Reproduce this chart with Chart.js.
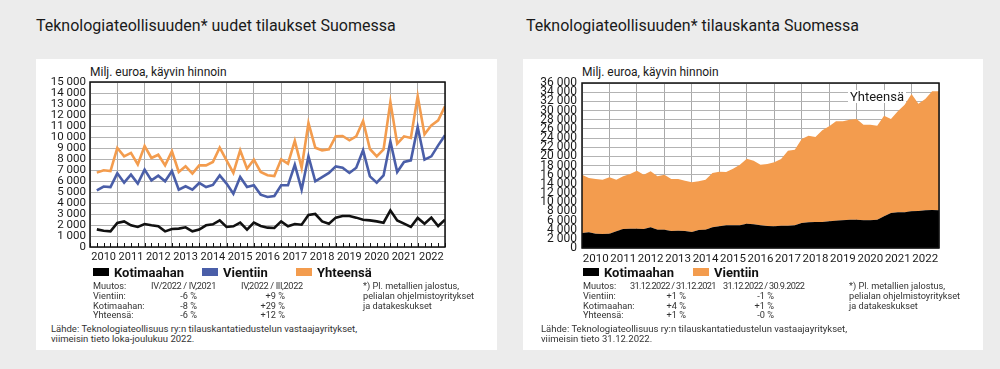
<!DOCTYPE html>
<html>
<head>
<meta charset="utf-8">
<script src="https://cdn.jsdelivr.net/npm/chart.js@4.4.1/dist/chart.umd.min.js"></script>
<style>
  body { margin: 0; width: 1000px; height: 369px; background: #ececec; font-family: Roboto, sans-serif; position: relative; overflow: hidden; }
  .panel { position: absolute; top: 59px; height: 291px; background: #fff; }
  .t { position: absolute; white-space: nowrap; color: #333; font-size: 9.2px; line-height: 10px; }
  .title { position: absolute; top: 18px; font-size: 16px; line-height: 16px; color: #1a1a1a; white-space: nowrap; }
  .unit { position: absolute; top: 66px; font-size: 12px; line-height: 12px; color: #1a1a1a; white-space: nowrap; }
  .leg { position: absolute; top: 266px; font-size: 13px; line-height: 13px; font-weight: bold; color: #111; white-space: nowrap; }
  .sw { position: absolute; top: 268px; width: 16px; height: 8px; }
  .r { text-align: right; }
  canvas { position: absolute; }
</style>
</head>
<body>
<div class="panel" style="left:36px;width:461px"></div>
<div class="panel" style="left:523px;width:460px"></div>
<div class="title" style="left:36px">Teknologiateollisuuden* uudet tilaukset Suomessa</div>
<div class="title" style="left:526px">Teknologiateollisuuden* tilauskanta Suomessa</div>
<div class="unit" style="left:90px">Milj. euroa, käyvin hinnoin</div>
<div class="unit" style="left:582px">Milj. euroa, käyvin hinnoin</div>
<canvas id="orders" width="412" height="205" style="left:40px;top:62px"></canvas>
<canvas id="backlog" width="418" height="206" style="left:528px;top:62px"></canvas>
<div class="unit" style="left:848px;top:90px;font-size:13px;line-height:13px;background:#fff;padding:0 2px">Yhteensä</div>
<div id="texts"></div>
<script>
const years = ['2010', '2011', '2012', '2013', '2014', '2015', '2016', '2017', '2018', '2019', '2020', '2021', '2022'];

// Uudet tilaukset, milj. euroa, neljännesvuosittain I/2010 - IV/2022
const ordersTotal = [
  6760, 6970, 6900, 9000, 8240, 8550, 7500, 9180, 8090, 8390, 7420, 8700,
  6820, 7330, 6670, 7420, 7420, 7730, 9030, 7880, 6730, 8790, 7120, 7940,
  6820, 6520, 6450, 7970, 7580, 9640, 7210, 11270, 9030, 8790, 8880, 10060,
  10090, 9700, 10060, 11450, 8910, 8240, 8880, 13180, 9390, 10060, 9910, 13700,
  10240, 11060, 11510, 12800
];
const ordersExport = [
  5150, 5500, 5450, 6700, 5850, 6580, 5760, 7030, 6060, 6480, 5970, 6900,
  5210, 5520, 5210, 5820, 5450, 5640, 6510, 5760, 4850, 6360, 5450, 5610,
  4760, 4550, 4640, 5610, 5610, 7480, 5210, 8240, 5970, 6360, 6730, 7330,
  7210, 6730, 7210, 8790, 6420, 5850, 6510, 9600, 6820, 7730, 7880, 10900,
  7940, 8240, 9240, 10150
];
const ordersDomestic = [
  1600, 1480, 1420, 2180, 2330, 1970, 1820, 2090, 1970, 1880, 1420, 1640,
  1670, 1790, 1420, 1580, 1970, 2060, 2420, 1820, 1880, 2210, 1580, 2210,
  1910, 1760, 1730, 2330, 1880, 2090, 2030, 2910, 3000, 2330, 2120, 2670,
  2820, 2820, 2670, 2480, 2420, 2330, 2210, 3330, 2420, 2120, 1820, 2640,
  2120, 2670, 1910, 2480
];

// Tilauskanta neljänneksen lopussa 31.12.2009 - 31.12.2022
const backlogDomestic = [
  3270, 3420, 3130, 3050, 3130, 3640, 4150, 4220, 4220, 4150, 4510, 4000, 4000,
  3710, 3780, 3710, 3490, 3930, 4000, 4510, 4730, 4950, 4950, 4950, 5310,
  5160, 4950, 4800, 4730, 4870, 4870, 4950, 5450, 5600, 5670, 5670, 5820,
  5960, 6040, 6180, 6180, 6040, 6040, 6180, 6910, 7640, 7780, 7780, 8000,
  8070, 8220, 8290, 8220
];
const backlogExport = [
  12730, 11850, 11920, 11850, 12290, 11260, 11490, 11930, 12650, 11850, 12220, 11640, 12000,
  11340, 11270, 10980, 10840, 10620, 10900, 11850, 11920, 11630, 12360, 13230, 14180,
  13890, 13230, 13530, 13960, 14550, 16370, 16500, 18330, 18910, 18550, 20000, 20730,
  21680, 21600, 21820, 21970, 20870, 20870, 20510, 21960, 20510, 22040, 23490, 25600,
  23420, 24290, 25890, 25960
];

const legendLeft = [['Kotimaahan', '#000'], ['Vientiin', '#4a5ea8'], ['Yhteensä', '#f39c4e']];
const legendRight = [['Kotimaahan', '#000'], ['Vientiin', '#f39c4e']];
const changeRowsLeft = [
  ['Muutos:', 'IV/2022 / IV,2021', 'IV,2022 / III,2022'],
  ['Vientiin:', '-6 %', '+9 %'],
  ['Kotimaahan:', '-8 %', '+29 %'],
  ['Yhteensä:', '-6 %', '+12 %']
];
const changeRowsRight = [
  ['Muutos:', '31.12.2022 / 31.12.2021', '31.12.2022 / 30.9.2022'],
  ['Vientiin:', '+1 %', '-1 %'],
  ['Kotimaahan:', '+4 %', '+1 %'],
  ['Yhteensä:', '+1 %', '-0 %']
];
const footnote = ['*) Pl. metallien jalostus,', 'pelialan ohjelmistoyritykset', 'ja datakeskukset'];
const sourceLeft = ['Lähde: Teknologiateollisuus ry:n tilauskantatiedustelun vastaajayritykset,', 'viimeisin tieto loka-joulukuu 2022.'];
const sourceRight = ['Lähde: Teknologiateollisuus ry:n tilauskantatiedustelun vastaajayritykset,', 'viimeisin tieto 31.12.2022.'];

// texts below the charts
const box = document.getElementById('texts');
function put(txt, left, top, cls, extra) {
  const d = document.createElement('div');
  d.className = cls;
  d.textContent = txt;
  d.style.left = left + 'px';
  d.style.top = top + 'px';
  if (extra) Object.assign(d.style, extra);
  box.appendChild(d);
}
function legend(items, xs) {
  items.forEach((it, i) => {
    put('', xs[i], 268, 'sw', { background: it[1] });
    put(it[0], xs[i] + 21, 266, 'leg');
  });
}
function table(rows, x0, hx1, hx2, vr1, vr2, squeeze) {
  rows.forEach((r, i) => {
    const top = 281 + i * 9.8;
    put(r[0], x0, top, 't');
    if (i === 0) {
      put(r[1], hx1, top, 't', { letterSpacing: squeeze });
      put(r[2], hx2, top, 't', { letterSpacing: squeeze });
    } else {
      put(r[1], vr1 - 60, top, 't r', { width: '60px' });
      put(r[2], vr2 - 60, top, 't r', { width: '60px' });
    }
  });
}
legend(legendLeft, [93, 202, 296]);
legend(legendRight, [583, 693]);
table(changeRowsLeft, 93, 151, 241, 197, 285, '-0.35px');
table(changeRowsRight, 583, 630, 723, 686, 774, '-0.65px');
footnote.forEach((s, i) => { put(s, 363, 281 + i * 9.8, 't'); put(s, 849, 281 + i * 9.8, 't'); });
sourceLeft.forEach((s, i) => put(s, 51, 324 + i * 10, 't', { fontSize: '9.5px' }));
sourceRight.forEach((s, i) => put(s, 541, 324 + i * 10, 't', { fontSize: '9.5px' }));

Chart.defaults.font.family = 'Roboto';
Chart.defaults.color = '#1a1a1a';

const spaced = v => String(v).replace(/\B(?=(\d{3})+$)/g, ' ');
const yearLabel = v => (v % 1 === 0.5 ? years[Math.floor(v) - 2010] : '');

// frame round the plot and short quarter ticks pointing inwards
const frame = {
  id: 'frame',
  afterDraw(chart, args, opts) {
    const { ctx, chartArea: a, scales: { x } } = chart;
    ctx.save();
    ctx.strokeStyle = '#111';
    if (opts.ticks) {
      ctx.beginPath();
      for (let v = 2010; v <= 2023; v += 0.25) {
        const px = Math.round(x.getPixelForValue(v)) + 0.5;
        ctx.moveTo(px, a.bottom);
        ctx.lineTo(px, a.bottom - 4);
      }
      ctx.lineWidth = 1;
      ctx.stroke();
    }
    ctx.lineWidth = 1.5;
    ctx.strokeRect(a.left, a.top, a.right - a.left, a.bottom - a.top);
    ctx.restore();
  }
};

function xScale(extra, fontSize) {
  return Object.assign({
    type: 'linear', min: 2010, max: 2023,
    afterFit: s => { s.height = 20; s.paddingLeft = 0; s.paddingRight = 0; },
    border: { display: false },
    grid: { drawTicks: false, lineWidth: 1, color: c => (c.tick && c.tick.value % 1 === 0 ? '#a9a9a9' : 'rgba(0,0,0,0)') },
    ticks: { stepSize: 0.25, autoSkip: false, maxRotation: 0, padding: 4, font: { size: fontSize }, color: '#1a1a1a', callback: yearLabel }
  }, extra);
}

new Chart(document.getElementById('orders'), {
  type: 'line',
  data: {
    datasets: [
      { label: 'Kotimaahan', data: ordersDomestic.map((v, i) => ({ x: 2010 + (i + 1) / 4, y: v })), borderColor: '#111' },
      { label: 'Vientiin', data: ordersExport.map((v, i) => ({ x: 2010 + (i + 1) / 4, y: v })), borderColor: '#4a5ea8' },
      { label: 'Yhteensä', data: ordersTotal.map((v, i) => ({ x: 2010 + (i + 1) / 4, y: v })), borderColor: '#f39c4e' }
    ]
  },
  options: {
    responsive: false,
    animation: false,
    layout: { padding: { top: 20, right: 7, left: 0, bottom: 0 } },
    elements: { point: { radius: 0 }, line: { borderWidth: 2.6, tension: 0 } },
    plugins: { legend: { display: false }, tooltip: { enabled: false }, frame: { ticks: true } },
    scales: {
      x: xScale({}, 11),
      y: {
        min: 0, max: 15000,
        afterFit: s => { s.width = 50; s.paddingTop = 0; s.paddingBottom = 0; },
        border: { display: false },
        grid: { drawTicks: false, color: '#b3b3b3' },
        ticks: { stepSize: 1000, autoSkip: false, padding: 4, font: { size: 11.5 }, color: '#1a1a1a', callback: spaced }
      }
    }
  },
  plugins: [frame]
});

new Chart(document.getElementById('backlog'), {
  type: 'line',
  data: {
    datasets: [
      { label: 'Kotimaahan', data: backlogDomestic.map((v, i) => ({ x: 2010 + i / 4, y: v })), backgroundColor: '#000', fill: 'origin' },
      { label: 'Vientiin', data: backlogExport.map((v, i) => ({ x: 2010 + i / 4, y: v })), backgroundColor: '#f39c4e', fill: '-1' }
    ]
  },
  options: {
    responsive: false,
    animation: false,
    layout: { padding: { top: 21, right: 7, left: 0, bottom: 0 } },
    elements: { point: { radius: 0 }, line: { borderWidth: 0, borderColor: 'rgba(0,0,0,0)', tension: 0 } },
    plugins: { legend: { display: false }, tooltip: { enabled: false }, frame: { ticks: false } },
    scales: {
      x: xScale({ z: 1 }, 11.5),
      y: {
        min: 0, max: 36000, stacked: true, z: 1,
        afterFit: s => { s.width = 54; s.paddingTop = 0; s.paddingBottom = 0; },
        border: { display: false },
        grid: { drawTicks: false, color: '#b3b3b3' },
        ticks: { stepSize: 2000, autoSkip: false, padding: 5, font: { size: 12 }, color: '#1a1a1a', callback: spaced }
      }
    }
  },
  plugins: [frame]
});
</script>
</body>
</html>
